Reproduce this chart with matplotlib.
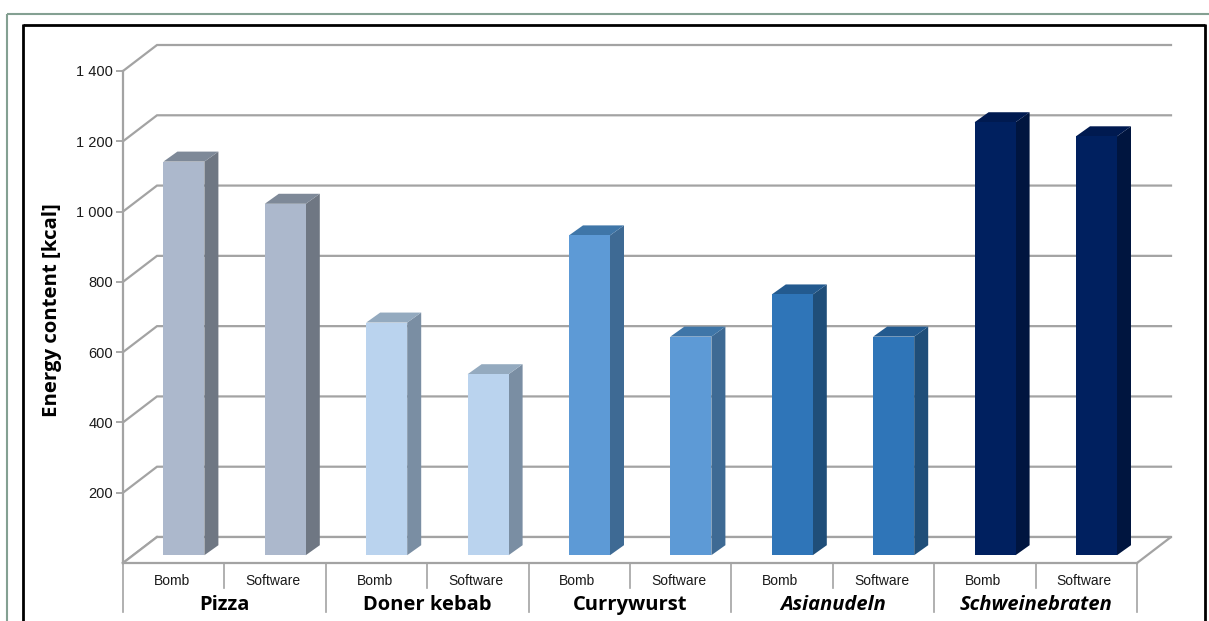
import matplotlib
matplotlib.use("Agg")
import matplotlib.pyplot as plt
from matplotlib.lines import Line2D
from matplotlib.patches import Polygon

W, H = 1209, 621

# values
groups = ["Pizza", "Doner kebab", "Currywurst", "Asianudeln", "Schweinebraten"]
group_italic = [False, False, False, True, True]
methods = ["Bomb", "Software"]
energy = [1120, 1000, 662, 515, 910, 622, 742, 622, 1232, 1192]
yticks = [200, 400, 600, 800, 1000, 1200, 1400]

front_cols = ["#acb8cc", "#bad3ee", "#5d9ad6", "#2f75b8", "#00205f"]
side_cols = ["#6f7783", "#7a8ea3", "#3e6a94", "#1f4e79", "#00153f"]
top_cols = ["#7e8998", "#94aabf", "#3f76a8", "#235a8f", "#001a50"]

GRID = "#a3a3a3"
LW = 1.6

# axes box in pixels, the 3d depth gets drawn outside of it
left, right, top, bottom = 123, 1137, 71, 563
fig = plt.figure(figsize=(W / 100, H / 100), dpi=100)
ax = fig.add_axes([left / W, 1 - bottom / H, (right - left) / W, (bottom - top) / H])
n = len(energy)
ax.set_xlim(0, n)
ax.set_ylim(0, 1400)
ax.patch.set_alpha(0)

# pixel sizes over to data units
xu = n / (right - left)
yu = 1400 / (bottom - top)
dx = 34 * xu
dy = 26 * yu

# outer frames
def frame_line(x0, y0, x1, y1, col, lw):
    fig.add_artist(Line2D([x0 / W, x1 / W], [1 - y0 / H, 1 - y1 / H], color=col, lw=lw,
                          solid_capstyle="butt"))

frame_line(7, 14, W, 14, "#84a092", 1.5)
frame_line(7, 14, 7, H, "#84a092", 1.5)
frame_line(23, 25, 1205, 25, "black", 2)
frame_line(23, 24, 23, H, "black", 2)
frame_line(1205, 24, 1205, H, "black", 2)

# back wall grid
for v in [0] + yticks:
    ax.plot([0, dx, n + dx], [v, v + dy, v + dy], color=GRID, lw=LW, clip_on=False, zorder=1,
            solid_joinstyle="miter")
ax.add_patch(Polygon([[0, 0], [dx, dy], [n + dx, dy], [n, 0]], closed=True, fc="white",
                     ec="none", clip_on=False, zorder=1.5))
ax.plot([dx, n + dx, n], [dy, dy, 0], color=GRID, lw=LW, clip_on=False, zorder=1.6)
ax.plot([0, dx], [0, dy], color=GRID, lw=LW, clip_on=False, zorder=1.6)

# bars
bar_w = 41 * xu
d0 = 0.3
dbar_x = 14 * xu
dbar_y = 10 * yu
for i, val in enumerate(energy):
    g = i // 2
    xc = i + 0.5 + d0 * dx
    x0 = xc - bar_w / 2
    x1 = xc + bar_w / 2
    y0 = d0 * dy
    y1 = val + y0
    ax.bar(xc, val, bar_w, bottom=y0, color=front_cols[g], edgecolor="none",
           clip_on=False, zorder=3)
    ax.add_patch(Polygon([[x1, y0], [x1 + dbar_x, y0 + dbar_y], [x1 + dbar_x, y1 + dbar_y], [x1, y1]],
                         closed=True, fc=side_cols[g], ec="none", clip_on=False, zorder=2.5))
    ax.add_patch(Polygon([[x0, y1], [x0 + dbar_x, y1 + dbar_y], [x1 + dbar_x, y1 + dbar_y], [x1, y1]],
                         closed=True, fc=top_cols[g], ec="none", clip_on=False, zorder=2.5))

# axes
for s in ["top", "right"]:
    ax.spines[s].set_visible(False)
for s in ["left", "bottom"]:
    ax.spines[s].set_color(GRID)
    ax.spines[s].set_linewidth(LW)
    ax.spines[s].set_zorder(4)

ax.set_yticks(yticks)
ax.set_yticklabels([f"{v:,}".replace(",", " ") for v in yticks], fontsize=10.5,
                   family="Liberation Sans", color="#1a1a1a")
ax.tick_params(axis="y", length=5, width=1.3, color=GRID, pad=2)

# labels sit a bit left of the cell middle in the original
ax.set_xticks([i + 0.5 - 2 * xu for i in range(n)])
ax.set_xticklabels(methods * len(groups), fontsize=10, family="Liberation Sans", color="#1a1a1a")
ax.tick_params(axis="x", length=0, pad=8)

# separators under the floor
for i in range(n + 1):
    h = 49 if i % 2 == 0 else 25
    ax.plot([i, i], [0, -h * yu], color=GRID, lw=1.2, clip_on=False, zorder=2)

for g, name in enumerate(groups):
    ax.text(2 * g + 1, -42 * yu, name, ha="center", va="center", fontsize=14.5, fontweight="bold",
            family="Open Sans", style="italic" if group_italic[g] else "normal", color="black")

fig.text(52 / W, 1 - 310 / H, "Energy content [kcal]", rotation=90, ha="center", va="center",
         fontsize=14.7, fontweight="bold", family="Open Sans", color="black")

fig.savefig("out.png", dpi=100)
